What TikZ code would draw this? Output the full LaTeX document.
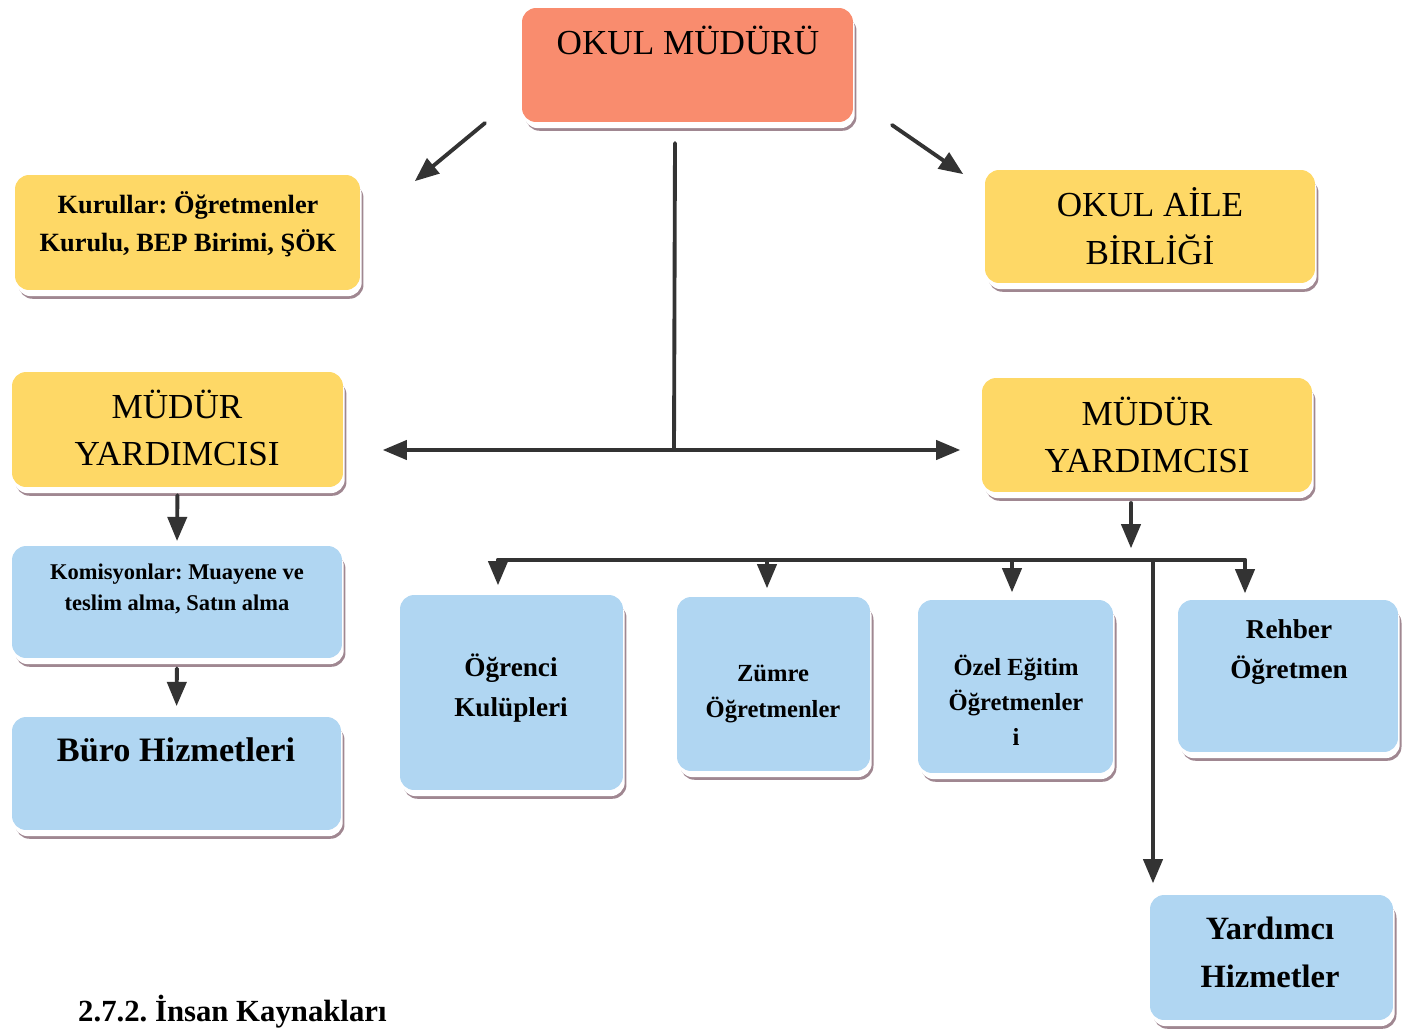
\documentclass[tikz,border=0pt]{standalone}
\usepackage{fontspec}
\setmainfont{Liberation Serif}
\usepackage{tikz}
\usetikzlibrary{arrows}
\usetikzlibrary{shadows}
\definecolor{f98c6e}{rgb}{0.976,0.549,0.431}
\definecolor{fed866}{rgb}{0.996,0.847,0.4}
\definecolor{b0d6f2}{rgb}{0.69,0.839,0.949}
\definecolor{a08791}{rgb}{0.627,0.529,0.569}
\definecolor{tttttt}{rgb}{0.2,0.2,0.2}
\frenchspacing
\tikzstyle{every node}=[font=\bfseries]
\tikzstyle{orgbox}=[rounded corners=8pt,general shadow={fill=a08791,shadow xshift=2pt,shadow yshift=-5pt},general shadow={fill=white,shadow xshift=1pt,shadow yshift=-3.5pt}]
\tikzstyle{conn}=[line width=2.2pt,color=tttttt]
\tikzstyle{capstext}=[align=center,font=\fontsize{20}{27.2}\selectfont]

\begin{document}
\begin{tikzpicture}[line cap=round,line join=round,>=triangle 45,x=0.02cm,y=-0.02cm]
\useasboundingbox (0,0) rectangle (1404,1031);
% boxes
\node[orgbox,fill=f98c6e,minimum width=6.62cm,minimum height=2.28cm] (mudur) at (687.5,65) {};
\node[orgbox,fill=fed866,minimum width=6.9cm,minimum height=2.3cm] (kurul) at (187.5,232.5) {};
\node[orgbox,fill=fed866,minimum width=6.6cm,minimum height=2.26cm] (aile) at (1150,226.5) {};
\node[orgbox,fill=fed866,minimum width=6.62cm,minimum height=2.3cm] (myl) at (177.5,429.5) {};
\node[orgbox,fill=fed866,minimum width=6.6cm,minimum height=2.28cm] (myr) at (1147,435) {};
\node[orgbox,fill=b0d6f2,minimum width=6.6cm,minimum height=2.24cm] (komis) at (177,602) {};
\node[orgbox,fill=b0d6f2,minimum width=6.58cm,minimum height=2.26cm] (buro) at (176.5,773.5) {};
\node[orgbox,fill=b0d6f2,minimum width=4.46cm,minimum height=3.9cm] (kulup) at (511.5,692.5) {};
\node[orgbox,fill=b0d6f2,minimum width=3.86cm,minimum height=3.48cm] (zumre) at (773.5,684) {};
\node[orgbox,fill=b0d6f2,minimum width=3.9cm,minimum height=3.46cm] (ozel) at (1015.5,686.5) {};
\node[orgbox,fill=b0d6f2,minimum width=4.4cm,minimum height=3.04cm] (rehber) at (1288,676) {};
\node[orgbox,fill=b0d6f2,minimum width=4.86cm,minimum height=2.5cm] (yard) at (1271.5,957.5) {};
% texts
\node[capstext] (mudurT) at (688,40) {OKUL MÜDÜRÜ};
\node[align=center,font=\bfseries\fontsize{15}{21.5}\selectfont] (kurulT) at (188,224) {Kurullar: Öğretmenler\\Kurulu, BEP Birimi, ŞÖK};
\node[capstext] (aileT) at (1150,226) {OKUL AİLE\\BİRLİĞİ};
\node[capstext] (mylT) at (177,428) {MÜDÜR\\YARDIMCISI};
\node[capstext] (myrT) at (1147,435) {MÜDÜR\\YARDIMCISI};
\node[align=center,font=\bfseries\fontsize{12.8}{17.6}\selectfont] (komisT) at (177,589) {Komisyonlar: Muayene ve\\teslim alma, Satın alma};
\node[font=\bfseries\fontsize{19.5}{22}\selectfont] (buroT) at (176,750) {Büro Hizmetleri};
\node[align=center,font=\bfseries\fontsize{15.5}{23.2}\selectfont] (kulupT) at (511,688) {Öğrenci\\Kulüpleri};
\node[align=center,font=\bfseries\fontsize{14}{20.4}\selectfont] (zumreT) at (773,694) {Zümre\\Öğretmenler};
\node[align=center,font=\bfseries\fontsize{14}{19.8}\selectfont] (ozelT) at (1016,700) {Özel Eğitim\\Öğretmenler\\i};
\node[align=center,font=\bfseries\fontsize{15.5}{23.2}\selectfont] (rehberT) at (1289,652) {Rehber\\Öğretmen};
\node[align=center,font=\bfseries\fontsize{18.5}{27.2}\selectfont] (yardT) at (1270,952) {Yardımcı\\Hizmetler};
\node[anchor=base west,font=\bfseries\fontsize{17.5}{20}\selectfont] (insan) at (72,1021) {2.7.2. İnsan Kaynakları};
% arrow ends
\coordinate (k1) at (485,123);
\coordinate (k2) at (415,181);
\coordinate (a1) at (892,125);
\coordinate (a2) at (963,174);
\coordinate (trunkTop) at (675,143);
\coordinate (trunkBot) at (674,450);
\coordinate (hbL) at (383,450);
\coordinate (hbR) at (960,450);
\coordinate (m1) at (1131,503);
\coordinate (m2) at (1131,548);
\coordinate (busL) at (498,560);
\coordinate (busR) at (1245,560);
\coordinate (d1) at (498,585);
\coordinate (d2t) at (767,560);
\coordinate (d2) at (767,588);
\coordinate (d3t) at (1012,560);
\coordinate (d3) at (1012,592);
\coordinate (d4) at (1245,593);
\coordinate (d5t) at (1153,560);
\coordinate (d5) at (1153,883);
% connectors
\draw[conn,->] (k1) -- (k2);
\draw[conn,->] (a1) -- (a2);
\draw[conn] (trunkTop) -- (trunkBot);
\draw[conn,<->] (hbL) -- (hbR);
\draw[conn,->,shorten <=4.5pt,shorten >=2.8pt] (myl.south) -- (komis.north);
\draw[conn,->,shorten <=5.7pt,shorten >=6.2pt] (komis.south) -- (buro.north);
\draw[conn,->] (m1) -- (m2);
\draw[conn] (busL) -- (busR);
\draw[conn,->] (busL) -- (d1);
\draw[conn,->] (d2t) -- (d2);
\draw[conn,->] (d3t) -- (d3);
\draw[conn,->] (busR) -- (d4);
\draw[conn,->] (d5t) -- (d5);
\end{tikzpicture}
\end{document}
